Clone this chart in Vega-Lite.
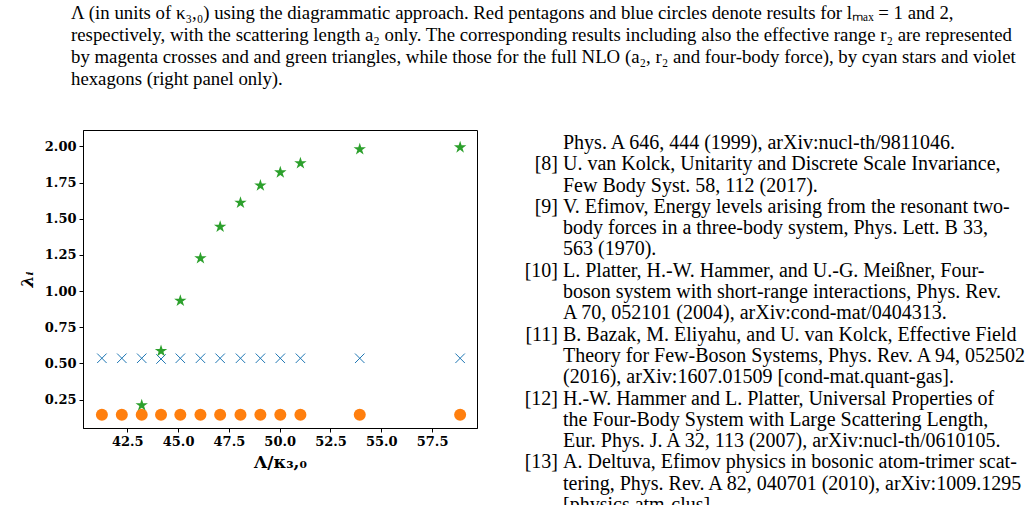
{
  "$schema": "https://vega.github.io/schema/vega-lite/v6.json",
  "padding": {"left": 17, "top": 3, "right": 0, "bottom": 0},
  "background": "white",
  "title": {
    "text": [
      "Λ (in units of κ₃,₀) using the diagrammatic approach. Red pentagons and blue circles denote results for lₘₐₓ = 1 and 2,",
      "respectively, with the scattering length a₂ only. The corresponding results including also the effective range r₂ are represented",
      "by magenta crosses and and green triangles, while those for the full NLO (a₂, r₂ and four-body force), by cyan stars and violet",
      "hexagons (right panel only)."
    ],
    "anchor": "start",
    "frame": "group",
    "dx": -12,
    "font": "Liberation Serif",
    "fontSize": 18.8,
    "fontWeight": "normal",
    "lineHeight": 22,
    "offset": 41,
    "color": "black"
  },
  "datasets": {
    "circles": [
      {"L": 41.25, "lam": 0.145}, {"L": 42.23, "lam": 0.145}, {"L": 43.21, "lam": 0.145},
      {"L": 44.16, "lam": 0.145}, {"L": 45.11, "lam": 0.145}, {"L": 46.1, "lam": 0.145},
      {"L": 47.07, "lam": 0.145}, {"L": 48.07, "lam": 0.145}, {"L": 49.05, "lam": 0.145},
      {"L": 50.03, "lam": 0.145}, {"L": 51.02, "lam": 0.145}, {"L": 53.94, "lam": 0.145},
      {"L": 58.88, "lam": 0.145}
    ],
    "crosses": [
      {"L": 41.25, "lam": 0.535}, {"L": 42.23, "lam": 0.535}, {"L": 43.21, "lam": 0.535},
      {"L": 44.16, "lam": 0.53}, {"L": 45.11, "lam": 0.535}, {"L": 46.1, "lam": 0.535},
      {"L": 47.07, "lam": 0.535}, {"L": 48.07, "lam": 0.535}, {"L": 49.05, "lam": 0.535},
      {"L": 50.03, "lam": 0.535}, {"L": 51.02, "lam": 0.535}, {"L": 53.94, "lam": 0.535},
      {"L": 58.88, "lam": 0.535}
    ],
    "stars": [
      {"L": 43.21, "lam": 0.21}, {"L": 44.16, "lam": 0.585}, {"L": 45.11, "lam": 0.933},
      {"L": 46.1, "lam": 1.226}, {"L": 47.07, "lam": 1.444}, {"L": 48.07, "lam": 1.61},
      {"L": 49.05, "lam": 1.73}, {"L": 50.03, "lam": 1.82}, {"L": 51.02, "lam": 1.883},
      {"L": 53.94, "lam": 1.98}, {"L": 58.88, "lam": 1.993}
    ],
    "refs": [
      {"line": 0, "num": "", "body": "Phys. A 646, 444 (1999), arXiv:nucl-th/9811046."},
      {"line": 1, "num": "[8]", "body": "U. van Kolck, Unitarity and Discrete Scale Invariance,"},
      {"line": 2, "num": "", "body": "Few Body Syst. 58, 112 (2017)."},
      {"line": 3, "num": "[9]", "body": "V. Efimov, Energy levels arising from the resonant two-"},
      {"line": 4, "num": "", "body": "body forces in a three-body system, Phys. Lett. B 33,"},
      {"line": 5, "num": "", "body": "563 (1970)."},
      {"line": 6, "num": "[10]", "body": "L. Platter, H.-W. Hammer, and U.-G. Meißner, Four-"},
      {"line": 7, "num": "", "body": "boson system with short-range interactions, Phys. Rev."},
      {"line": 8, "num": "", "body": "A 70, 052101 (2004), arXiv:cond-mat/0404313."},
      {"line": 9, "num": "[11]", "body": "B. Bazak, M. Eliyahu, and U. van Kolck, Effective Field"},
      {"line": 10, "num": "", "body": "Theory for Few-Boson Systems, Phys. Rev. A 94, 052502"},
      {"line": 11, "num": "", "body": "(2016), arXiv:1607.01509 [cond-mat.quant-gas]."},
      {"line": 12, "num": "[12]", "body": "H.-W. Hammer and L. Platter, Universal Properties of"},
      {"line": 13, "num": "", "body": "the Four-Body System with Large Scattering Length,"},
      {"line": 14, "num": "", "body": "Eur. Phys. J. A 32, 113 (2007), arXiv:nucl-th/0610105."},
      {"line": 15, "num": "[13]", "body": "A. Deltuva, Efimov physics in bosonic atom-trimer scat-"},
      {"line": 16, "num": "", "body": "tering, Phys. Rev. A 82, 040701 (2010), arXiv:1009.1295"},
      {"line": 17, "num": "", "body": "[physics.atm-clus]."}
    ]
  },
  "spacing": 43,
  "hconcat": [
    {
      "width": 394,
      "height": 298,
      "encoding": {
        "x": {
          "field": "L", "type": "quantitative",
          "scale": {"domain": [40.32, 59.71], "nice": false, "zero": false},
          "axis": {"values": [42.5, 45, 47.5, 50, 52.5, 55, 57.5], "format": ".1f", "title": "Λ/κ₃,₀", "titlePadding": 6}
        },
        "y": {
          "field": "lam", "type": "quantitative",
          "scale": {"domain": [0.053, 2.113], "nice": false, "zero": false},
          "axis": {"values": [0.25, 0.5, 0.75, 1.0, 1.25, 1.5, 1.75, 2.0], "format": ".2f", "title": "λᵢ", "titlePadding": 8, "titleFontStyle": "italic"}
        }
      },
      "layer": [
        {
          "data": {"values": [{}]},
          "mark": {"type": "rule", "strokeDash": [5, 2.5], "color": "black", "strokeWidth": 1},
          "encoding": {"y": {"datum": 1}, "x": null}
        },
        {
          "data": {"name": "circles"},
          "mark": {"type": "point", "shape": "circle", "filled": true, "size": 144, "color": "#ff7f0e", "opacity": 1}
        },
        {
          "data": {"name": "crosses"},
          "mark": {"type": "point", "shape": "M-1,-1L1,1M-1,1L1,-1", "filled": false, "size": 90, "color": "#1f77b4", "strokeWidth": 1, "opacity": 1}
        },
        {
          "data": {"name": "stars"},
          "mark": {"type": "point", "shape": "M0,-1L0.2245,-0.309L0.951,-0.309L0.363,0.118L0.588,0.809L0,0.382L-0.588,0.809L-0.363,0.118L-0.951,-0.309L-0.2245,-0.309Z", "filled": true, "size": 170, "color": "#2ca02c", "opacity": 1}
        }
      ]
    },
    {
      "width": 500,
      "height": 375,
      "data": {"name": "refs"},
      "view": {"stroke": null},
      "encoding": {
        "y": {"field": "line", "type": "quantitative", "scale": {"domain": [-0.61, 17], "reverse": true, "nice": false, "zero": false}, "axis": null}
      },
      "layer": [
        {
          "mark": {"type": "text", "align": "right", "baseline": "middle", "font": "Liberation Serif", "fontSize": 20, "color": "black"},
          "encoding": {"x": {"value": 37}, "text": {"field": "num"}}
        },
        {
          "mark": {"type": "text", "align": "left", "baseline": "middle", "font": "Liberation Serif", "fontSize": 20, "color": "black"},
          "encoding": {"x": {"value": 42}, "text": {"field": "body"}}
        }
      ]
    }
  ],
  "config": {
    "view": {"stroke": "black", "strokeWidth": 1},
    "axis": {
      "grid": false,
      "labelFont": "DejaVu Serif", "labelFontWeight": "bold", "labelFontSize": 13, "labelColor": "black",
      "titleFont": "DejaVu Serif", "titleFontWeight": "bold", "titleFontSize": 17, "titleColor": "black",
      "tickColor": "black", "tickSize": 4, "labelPadding": 3, "domainColor": "black"
    }
  }
}
